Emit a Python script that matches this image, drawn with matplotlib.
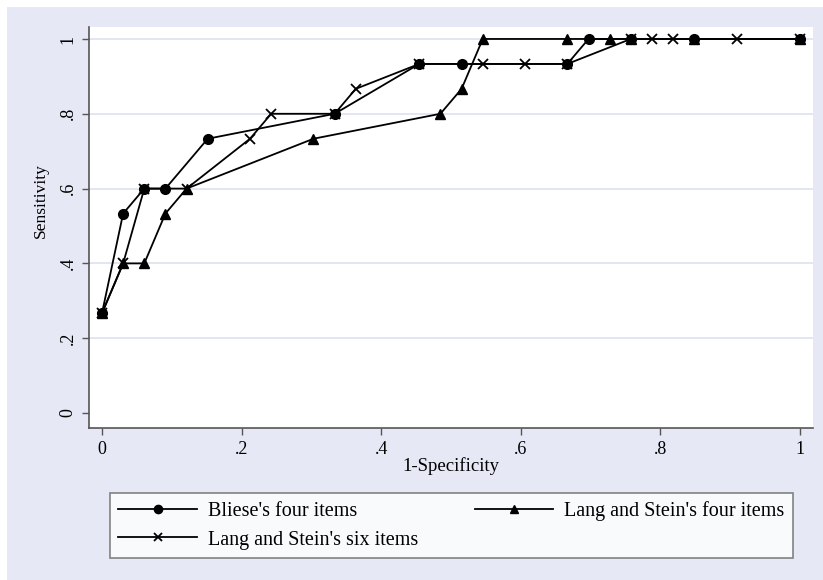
import matplotlib
matplotlib.use("Agg")
import matplotlib.pyplot as plt
from matplotlib.patches import Rectangle

# ROC points (1-specificity, sensitivity)
bliese_x = [0, 0.0303, 0.0606, 0.0909, 0.1515, 0.3333, 0.4545, 0.5152, 0.6667, 0.6970, 0.7576, 0.8485, 1.0]
bliese_y = [0.2667, 0.5333, 0.6, 0.6, 0.7333, 0.8, 0.9333, 0.9333, 0.9333, 1.0, 1.0, 1.0, 1.0]

four_x = [0, 0.0303, 0.0606, 0.0909, 0.1212, 0.3030, 0.4848, 0.5152, 0.5455, 0.6667, 0.7273, 0.7576, 0.8485, 1.0]
four_y = [0.2667, 0.4, 0.4, 0.5333, 0.6, 0.7333, 0.8, 0.8667, 1.0, 1.0, 1.0, 1.0, 1.0, 1.0]

six_x = [0, 0.0303, 0.0606, 0.1212, 0.2121, 0.2424, 0.3333, 0.3636, 0.4545, 0.5455, 0.6061, 0.6667,
         0.7576, 0.7879, 0.8182, 0.9091, 1.0]
six_y = [0.2667, 0.4, 0.6, 0.6, 0.7333, 0.8, 0.8, 0.8667, 0.9333, 0.9333, 0.9333, 0.9333,
         1.0, 1.0, 1.0, 1.0, 1.0]

ticks = [0, 0.2, 0.4, 0.6, 0.8, 1.0]
tick_labels = ["0", ".2", ".4", ".6", ".8", "1"]

bg = "#E6E9F5"
plt.rcParams["font.family"] = ["Liberation Serif", "DejaVu Serif"]
plt.rcParams["font.size"] = 12

fig = plt.figure(figsize=(8.23, 5.8), dpi=100, facecolor="white")
fig.patches.append(Rectangle((7 / 823, 0), 1, 1 - 7 / 580, transform=fig.transFigure,
                             facecolor=bg, edgecolor="none", zorder=-10))

ax = fig.add_axes([89 / 823, 1 - 428 / 580, 724 / 823, 401 / 580])
ax.set_facecolor("white")

for t in ticks[1:]:
    ax.axhline(t, color="#DFE4F1", lw=1.3, zorder=0)

ln_kw = dict(color="black", lw=1.3, markersize=7)
l1, = ax.plot(bliese_x, bliese_y, marker="o", label="Bliese's four items", **ln_kw)
l2, = ax.plot(four_x, four_y, marker="^", label="Lang and Stein's four items", **ln_kw)
l3, = ax.plot(six_x, six_y, marker="x", mew=1.3, label="Lang and Stein's six items", **ln_kw)

ax.set_xlim(-0.0186, 1.0186)
ax.set_ylim(-0.040, 1.032)
ax.set_xticks(ticks)
ax.set_xticklabels(tick_labels)
ax.set_yticks(ticks)
ax.set_yticklabels(tick_labels, rotation=90, va="center")
ax.tick_params(direction="out", length=5, width=1, color="#555555", labelsize=13, pad=4)
for s in ["top", "right"]:
    ax.spines[s].set_visible(False)
for s in ["left", "bottom"]:
    ax.spines[s].set_color("#555555")
    ax.spines[s].set_linewidth(1.2)

ax.set_xlabel("1-Specificity", fontsize=13.5, labelpad=0)
ax.set_ylabel("Sensitivity", fontsize=12.5)
ax.yaxis.set_label_coords(-0.056, 0.566)

leg = fig.legend([l1, l3, l2], [l1.get_label(), l3.get_label(), l2.get_label()],
                 ncol=2, loc="lower left", mode="expand",
                 bbox_to_anchor=(110 / 823, 1 - 558 / 580, 683 / 823, 66 / 580),
                 frameon=True, fancybox=False, handlelength=3.9, handletextpad=0.55,
                 fontsize=14.5, markerscale=0.85, borderaxespad=0, labelspacing=0.45,
                 borderpad=0.42)
leg.get_frame().set_edgecolor("#666666")
leg.get_frame().set_linewidth(1.2)

fig.savefig("out.png", dpi=100, facecolor=fig.get_facecolor())
